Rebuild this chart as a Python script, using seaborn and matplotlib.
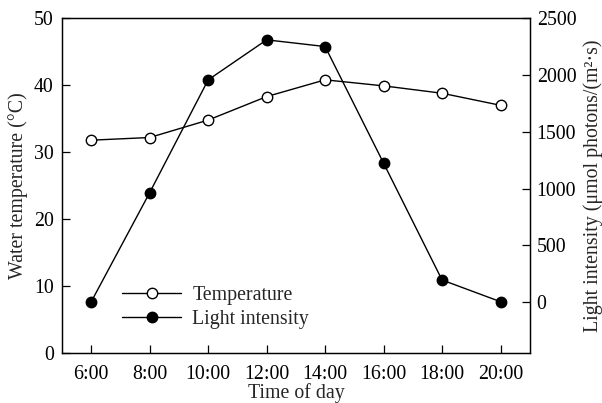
import matplotlib
matplotlib.use("Agg")
import matplotlib.pyplot as plt
import seaborn as sns
import pandas as pd

hours = [6, 8, 10, 12, 14, 16, 18, 20]
tick_labels = ["6:00", "8:00", "10:00", "12:00", "14:00", "16:00", "18:00", "20:00"]
temperature = [31.8, 32.2, 34.8, 38.3, 40.8, 39.9, 38.8, 37.0]
light = [5, 965, 1957, 2309, 2250, 1224, 196, 5]

df = pd.DataFrame({"hour": hours, "temperature": temperature, "light": light})

sns.set_theme(style="ticks")
plt.rcParams["font.family"] = ["Liberation Serif", "DejaVu Serif"]

fig = plt.figure(figsize=(6.02, 4.03), dpi=100)
ax = fig.add_axes([0.103, 0.123, 0.777, 0.832])
ax2 = ax.twinx()

fs = 14.3
common = dict(color="black", linewidth=1.0, marker="o", markersize=7.5,
              markeredgecolor="black", markeredgewidth=1.0)
sns.lineplot(data=df, x="hour", y="temperature", ax=ax, markerfacecolor="white",
             legend=False, **common)
sns.lineplot(data=df, x="hour", y="light", ax=ax2, markerfacecolor="black",
             legend=False, **common)

ax.set_xlim(5, 21)
ax.set_ylim(0, 50)
ax2.set_ylim(-450, 2500)
ax.set_xticks(hours)
ax.set_xticklabels(tick_labels)
ax.set_yticks([0, 10, 20, 30, 40, 50])
ax2.set_yticks([0, 500, 1000, 1500, 2000, 2500])

ax.set_xlabel("Time of day", fontsize=fs, labelpad=0)
ax.set_ylabel("Water temperature (°C)", fontsize=fs, labelpad=4)
ax2.set_ylabel("Light intensity (μmol photons/(m²·s)", fontsize=fs, labelpad=5)

for a in (ax, ax2):
    for s in a.spines.values():
        s.set_linewidth(0.9)
        s.set_color("black")
ax.tick_params(axis="both", direction="in", length=6, width=0.9, labelsize=fs,
               colors="black", right=False, top=False, pad=6)
ax.tick_params(axis="x", pad=8)
ax2.tick_params(axis="y", direction="in", length=6, width=0.9, labelsize=fs,
                colors="black", left=False, right=True, pad=5)

h1 = ax.get_lines()[0]
h2 = ax2.get_lines()[0]
ax.legend([h1, h2], ["Temperature", "Light intensity"], loc="center left",
          bbox_to_anchor=(0.128, 0.137), frameon=False, fontsize=fs,
          handlelength=3.0, handletextpad=0.55, labelspacing=0.25,
          borderpad=0, borderaxespad=0)

fig.savefig("out.png", dpi=100)
